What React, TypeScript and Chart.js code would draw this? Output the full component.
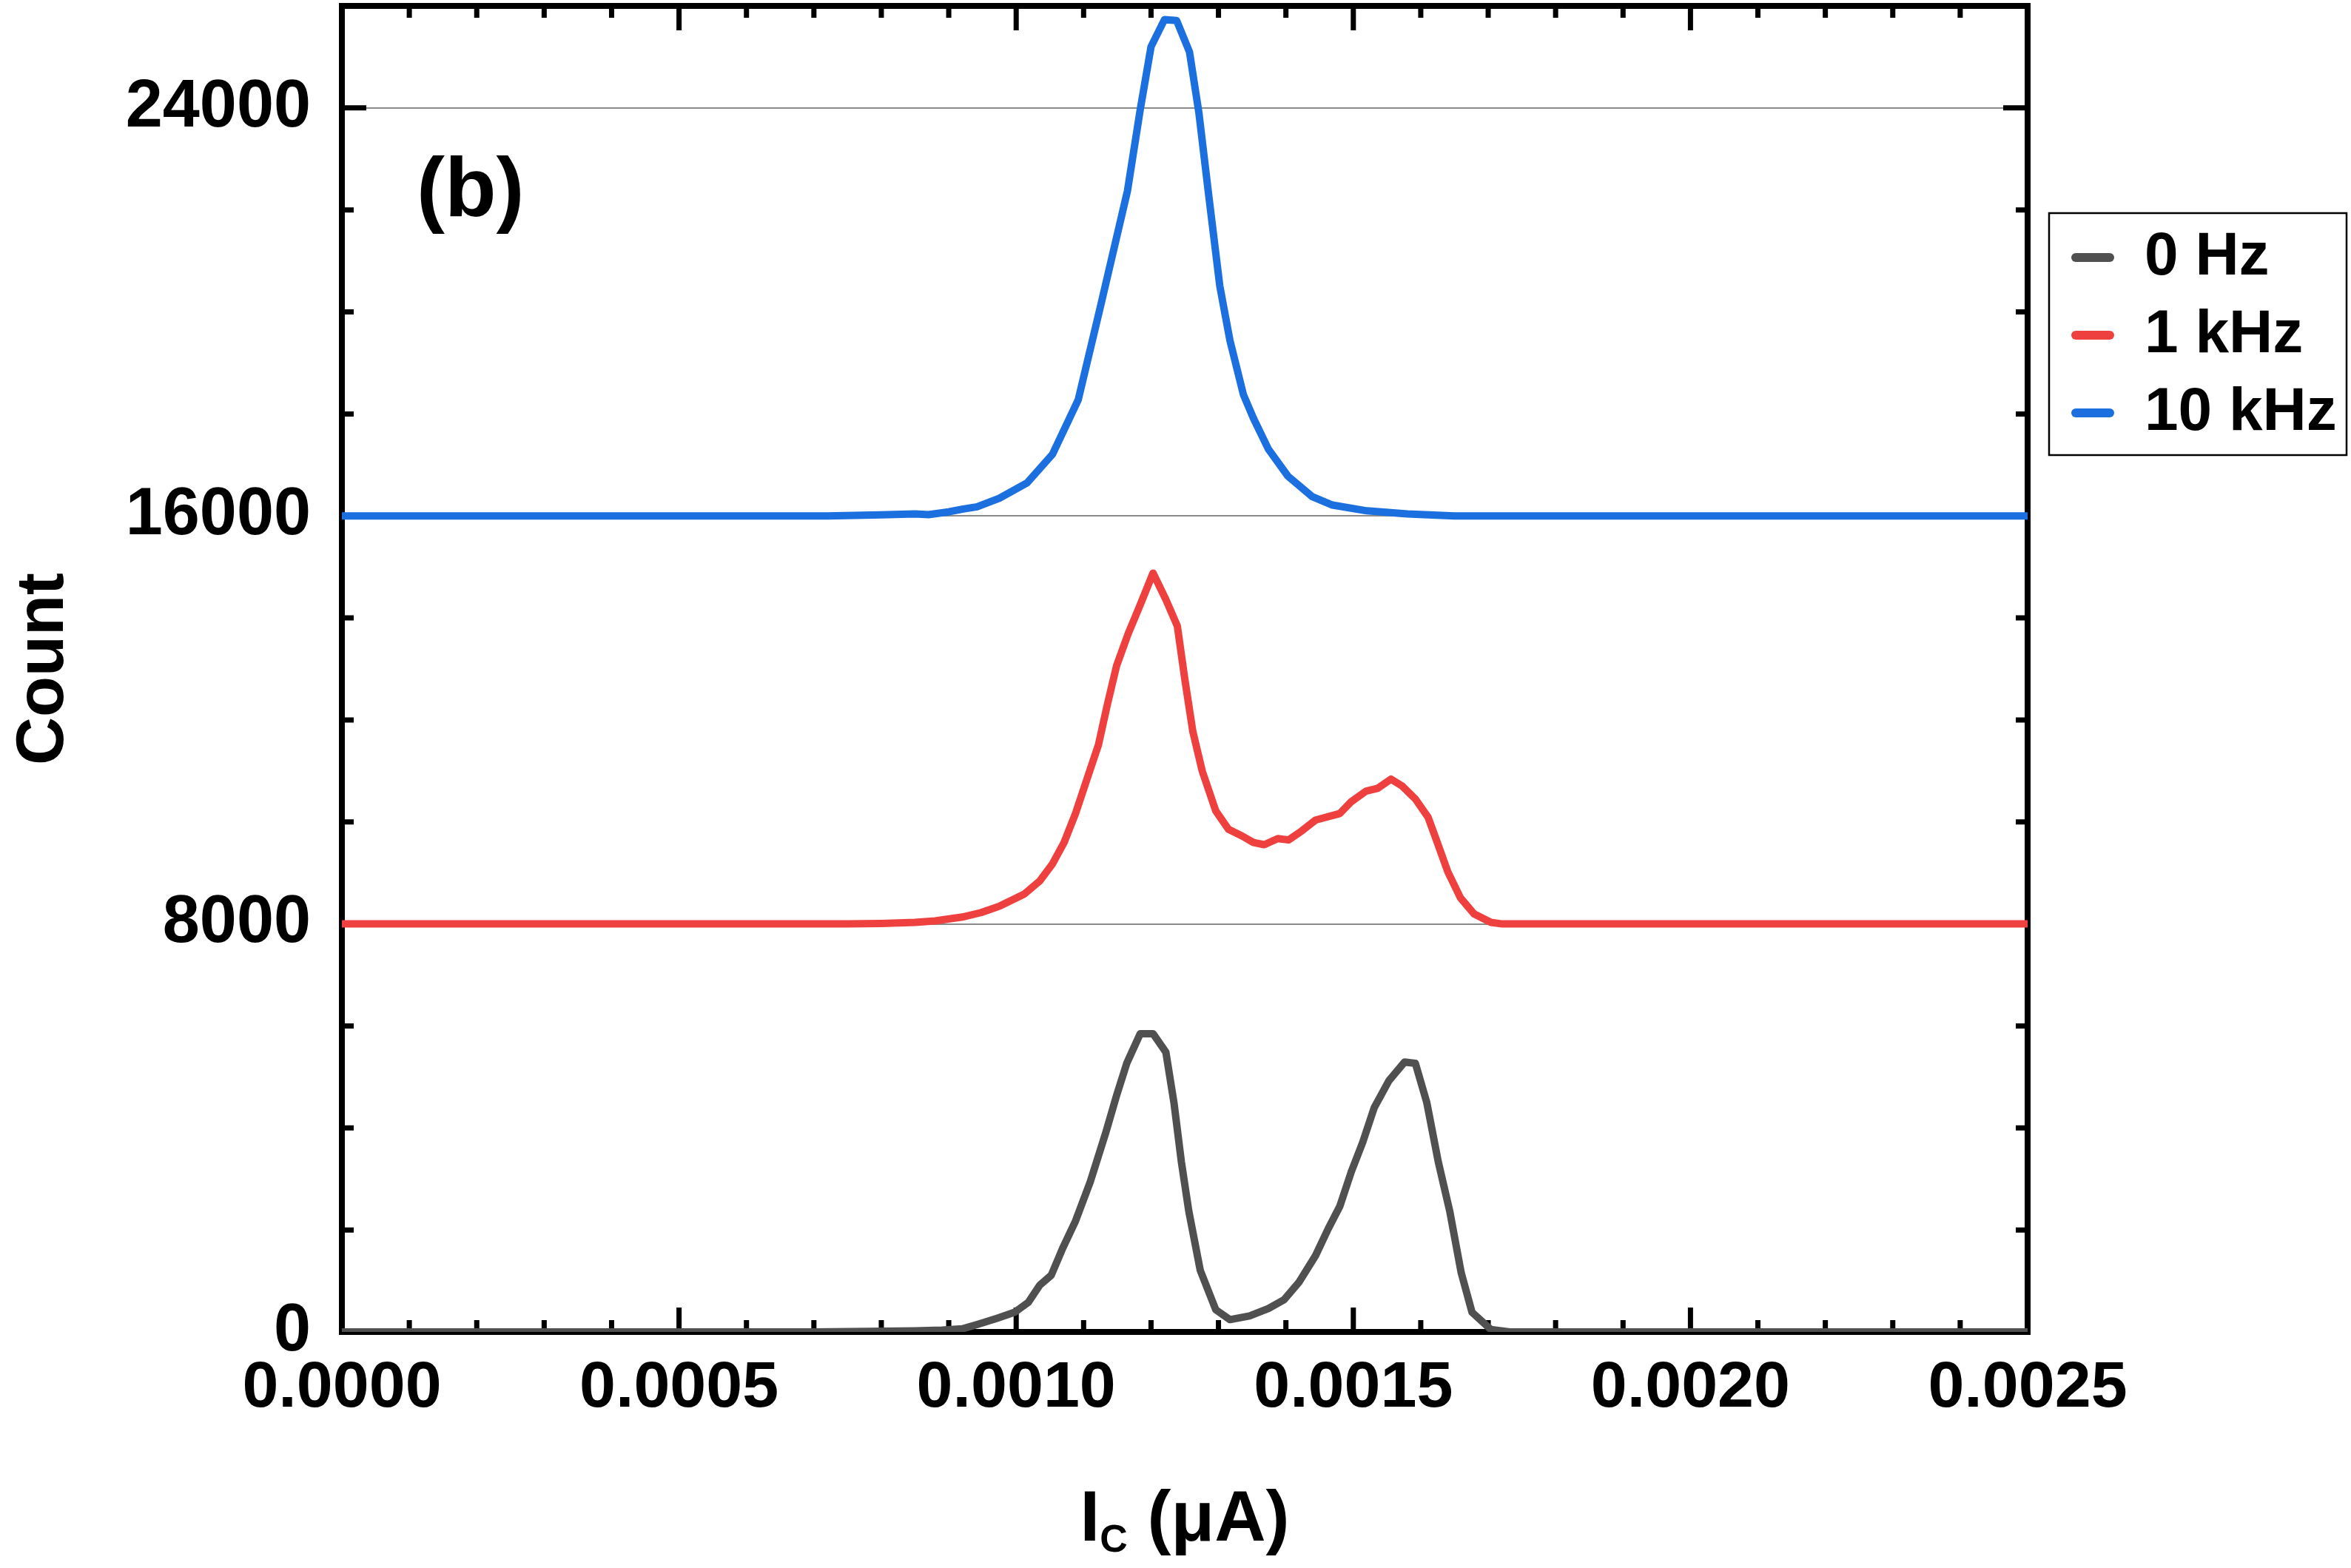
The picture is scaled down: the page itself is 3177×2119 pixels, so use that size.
import React, { useEffect, useRef } from 'react';
import { Chart, registerables } from 'chart.js';

Chart.register(...registerables);

const FONT = '"Liberation Sans", Arial, Helvetica, sans-serif';

// ---- Series ----
const SERIES_LABELS = ['0 Hz', '1 kHz', '10 kHz'];
const SERIES_COLORS = ['#505050', '#EF4040', '#1B6FDE'];
const SERIES_OFFSETS = [0, 8000, 16000];

// 0 Hz: I_C (µA) and counts
const IC_0HZ = [0, 0.0007, 0.00078, 0.00085, 0.00089, 0.00092, 0.000942, 0.000971, 0.000998, 0.001018, 0.001035, 0.001052, 0.001069, 0.001088, 0.00111, 0.001133, 0.001149, 0.001164, 0.001184, 0.001203, 0.001222, 0.001234, 0.001245, 0.001256, 0.001273, 0.001296, 0.001317, 0.001346, 0.001374, 0.001397, 0.001419, 0.001444, 0.001463, 0.00148, 0.001497, 0.001514, 0.001531, 0.001553, 0.001576, 0.001592, 0.001609, 0.001626, 0.001643, 0.00166, 0.001676, 0.001704, 0.001732, 0.0025];
const COUNT_0HZ = [0, 0, 10, 20, 35, 60, 145, 266, 387, 580, 918, 1112, 1643, 2175, 2948, 3915, 4640, 5268, 5848, 5848, 5486, 4495, 3335, 2368, 1208, 435, 242, 314, 459, 628, 967, 1498, 2030, 2465, 3141, 3721, 4398, 4930, 5292, 5268, 4495, 3335, 2368, 1160, 387, 48, 0, 0];

// 1 kHz
const IC_1KHZ = [0, 0.00075, 0.0008, 0.00085, 0.00088, 0.00092, 0.000948, 0.000976, 0.001012, 0.001035, 0.001054, 0.001071, 0.001088, 0.001105, 0.001122, 0.001135, 0.001149, 0.001166, 0.001184, 0.001203, 0.001222, 0.001239, 0.00125, 0.001262, 0.001276, 0.001296, 0.001315, 0.001335, 0.001352, 0.001368, 0.001388, 0.001404, 0.001424, 0.001444, 0.00148, 0.001497, 0.001519, 0.001536, 0.001556, 0.001572, 0.001592, 0.001611, 0.001626, 0.00164, 0.001659, 0.001679, 0.001704, 0.001721, 0.0025];
const COUNT_1KHZ = [0, 0, 10, 30, 60, 135, 223, 352, 585, 844, 1181, 1595, 2165, 2839, 3512, 4289, 5066, 5688, 6258, 6879, 6361, 5843, 4807, 3771, 2994, 2217, 1854, 1725, 1595, 1554, 1673, 1647, 1829, 2036, 2165, 2398, 2606, 2657, 2839, 2709, 2450, 2088, 1544, 1026, 508, 197, 31, 0, 0];

// 10 kHz
const IC_10KHZ = [0, 0.00072, 0.0008, 0.00085, 0.00087, 0.0009, 0.00092, 0.000942, 0.000975, 0.001016, 0.001054, 0.001092, 0.001125, 0.001165, 0.001184, 0.0012, 0.00122, 0.001238, 0.001257, 0.001271, 0.001286, 0.001302, 0.001317, 0.001337, 0.001352, 0.001374, 0.001403, 0.001439, 0.001469, 0.00152, 0.00158, 0.00165, 0.0025];
const COUNT_10KHZ = [0, 0, 20, 40, 25, 80, 133, 180, 346, 646, 1212, 2277, 4107, 6371, 7968, 9200, 9733, 9713, 9100, 7902, 6238, 4507, 3442, 2377, 1911, 1311, 779, 379, 213, 100, 40, 0, 0];

// ---- Axes ----
const X_MIN = 0;
const X_MAX = 0.0025;
const X_MINOR_STEP = 0.0001;
const X_TICK_VALUES = [0, 0.0005, 0.001, 0.0015, 0.002, 0.0025];
const X_TICK_LABELS = ['0.0000', '0.0005', '0.0010', '0.0015', '0.0020', '0.0025'];

const Y_MIN = 0;
const Y_MAX = 26000;
const Y_MINOR_STEP = 2000;
const Y_TICK_VALUES = [0, 8000, 16000, 24000];
const Y_TICK_LABELS = ['0', '8000', '16000', '24000'];

const X_TITLE_MAIN = 'I';
const X_TITLE_SUB = 'C';
const X_TITLE_REST = ' (μA)';
const Y_TITLE = 'Count';
const PANEL_LABEL = '(b)';

const W = 3177;
const H = 2119;

const isIn = (arr: number[], v: number) => arr.some((t) => Math.abs(t - v) < 1e-9);

const framePlugin = {
  id: 'frameTicks',
  beforeDatasetsDraw(chart: any) {
    const { ctx, chartArea: a, scales } = chart;
    const xs = scales.x;
    const ys = scales.y;
    ctx.save();
    ctx.strokeStyle = '#000';
    ctx.lineCap = 'butt';
    // ticks
    ctx.lineWidth = 7;
    const MAJ = 33;
    const MIN = 16;
    const nx = Math.round((X_MAX - X_MIN) / X_MINOR_STEP);
    for (let i = 0; i <= nx; i++) {
      const v = X_MIN + i * X_MINOR_STEP;
      const px = xs.getPixelForValue(v);
      const len = isIn(X_TICK_VALUES, v) ? MAJ : MIN;
      ctx.beginPath();
      ctx.moveTo(px, a.bottom);
      ctx.lineTo(px, a.bottom - len);
      ctx.moveTo(px, a.top);
      ctx.lineTo(px, a.top + len);
      ctx.stroke();
    }
    const ny = Math.round((Y_MAX - Y_MIN) / Y_MINOR_STEP);
    for (let i = 0; i <= ny; i++) {
      const v = Y_MIN + i * Y_MINOR_STEP;
      const py = ys.getPixelForValue(v);
      const len = isIn(Y_TICK_VALUES, v) ? MAJ : MIN;
      ctx.beginPath();
      ctx.moveTo(a.left, py);
      ctx.lineTo(a.left + len, py);
      ctx.moveTo(a.right, py);
      ctx.lineTo(a.right - len, py);
      ctx.stroke();
    }
    // frame
    ctx.lineWidth = 8;
    ctx.lineJoin = 'miter';
    ctx.strokeRect(a.left, a.top, a.right - a.left, a.bottom - a.top);
    ctx.restore();
  },
  afterDraw(chart: any) {
    const { ctx, chartArea: a } = chart;
    ctx.save();
    ctx.fillStyle = '#000';

    // panel label
    ctx.font = `bold 114px ${FONT}`;
    ctx.textAlign = 'left';
    ctx.textBaseline = 'alphabetic';
    ctx.fillText(PANEL_LABEL, 563, 292);

    // x title with subscript
    const mainFont = `bold 96px ${FONT}`;
    const subFont = `bold 52px ${FONT}`;
    ctx.font = mainFont;
    const wI = ctx.measureText(X_TITLE_MAIN).width;
    const wR = ctx.measureText(X_TITLE_REST).width;
    ctx.font = subFont;
    const wS = ctx.measureText(X_TITLE_SUB).width;
    const total = wI + wS + wR;
    let x0 = (a.left + a.right) / 2 - total / 2;
    const base = 2082;
    ctx.font = mainFont;
    ctx.fillText(X_TITLE_MAIN, x0, base);
    x0 += wI;
    ctx.font = subFont;
    ctx.fillText(X_TITLE_SUB, x0, base + 15);
    x0 += wS;
    ctx.font = mainFont;
    ctx.fillText(X_TITLE_REST, x0, base);

    // legend
    const bx = 2769, by = 288, bw = 402, bh = 327;
    ctx.strokeStyle = '#000';
    ctx.lineWidth = 2.5;
    ctx.strokeRect(bx, by, bw, bh);
    const rows = [348, 453, 558];
    chart.data.datasets.forEach((ds: any, i: number) => {
      const y = rows[i];
      ctx.strokeStyle = ds.borderColor;
      ctx.lineWidth = 12;
      ctx.lineCap = 'round';
      ctx.beginPath();
      ctx.moveTo(2805, y);
      ctx.lineTo(2851, y);
      ctx.stroke();
      ctx.fillStyle = '#000';
      ctx.font = `bold 82px ${FONT}`;
      ctx.textBaseline = 'middle';
      ctx.textAlign = 'left';
      ctx.fillText(ds.label, 2898, y);
    });
    ctx.restore();
  },
};

function buildData(ic: number[], counts: number[], offset: number) {
  return ic.map((x, i) => ({ x, y: counts[i] + offset }));
}

export default function App() {
  const ref = useRef<HTMLCanvasElement | null>(null);
  useEffect(() => {
    if (!ref.current) return;
    const series = [
      [IC_0HZ, COUNT_0HZ],
      [IC_1KHZ, COUNT_1KHZ],
      [IC_10KHZ, COUNT_10KHZ],
    ];
    const chart = new Chart(ref.current, {
      type: 'line',
      data: {
        datasets: series.map((s, i) => ({
          label: SERIES_LABELS[i],
          data: buildData(s[0], s[1], SERIES_OFFSETS[i]),
          borderColor: SERIES_COLORS[i],
          backgroundColor: SERIES_COLORS[i],
          borderWidth: 10,
          pointRadius: 0,
          tension: 0,
          borderJoinStyle: 'round',
          borderCapStyle: 'round',
          fill: false,
        })),
      },
      options: {
        animation: false,
        responsive: false,
        devicePixelRatio: 1,
        layout: { padding: { top: 8, right: W - 2740, bottom: 0, left: 0 } },
        plugins: { legend: { display: false }, tooltip: { enabled: false } },
        scales: {
          x: {
            type: 'linear',
            min: X_MIN,
            max: X_MAX,
            afterBuildTicks: (s: any) => {
              s.ticks = X_TICK_VALUES.map((value) => ({ value }));
            },
            afterFit: (s: any) => {
              s.height = H - 1800;
              s.paddingLeft = 0;
              s.paddingRight = 0;
            },
            grid: { display: false, drawTicks: false },
            border: { display: false },
            ticks: {
              autoSkip: false,
              maxRotation: 0,
              padding: 24,
              color: '#000',
              font: { family: FONT, size: 88, weight: 'bold' },
              callback: (v: any) => {
                const i = X_TICK_VALUES.findIndex((t) => Math.abs(t - Number(v)) < 1e-9);
                return i >= 0 ? X_TICK_LABELS[i] : '';
              },
            },
          },
          y: {
            type: 'linear',
            min: Y_MIN,
            max: Y_MAX,
            afterBuildTicks: (s: any) => {
              s.ticks = Y_TICK_VALUES.map((value) => ({ value }));
            },
            afterFit: (s: any) => {
              s.width = 462;
              s.paddingTop = 0;
              s.paddingBottom = 0;
            },
            grid: { display: true, drawTicks: false, color: '#8a8a8a', lineWidth: 2 },
            border: { display: false },
            title: {
              display: true,
              text: Y_TITLE,
              color: '#000',
              font: { family: FONT, size: 90, weight: 'bold' },
              padding: { top: 6, bottom: 0 },
            },
            ticks: {
              autoSkip: false,
              padding: 42,
              color: '#000',
              font: { family: FONT, size: 90, weight: 'bold' },
              callback: (v: any) => {
                const i = Y_TICK_VALUES.findIndex((t) => Math.abs(t - Number(v)) < 1e-6);
                return i >= 0 ? Y_TICK_LABELS[i] : '';
              },
            },
          },
        },
      },
      plugins: [framePlugin],
    } as any);
    return () => chart.destroy();
  }, []);

  return (
    <div style={{ position: 'absolute', left: 0, top: 0, width: W, height: H, background: '#fff' }}>
      <canvas ref={ref} width={W} height={H} style={{ width: W, height: H, display: 'block' }} />
    </div>
  );
}
